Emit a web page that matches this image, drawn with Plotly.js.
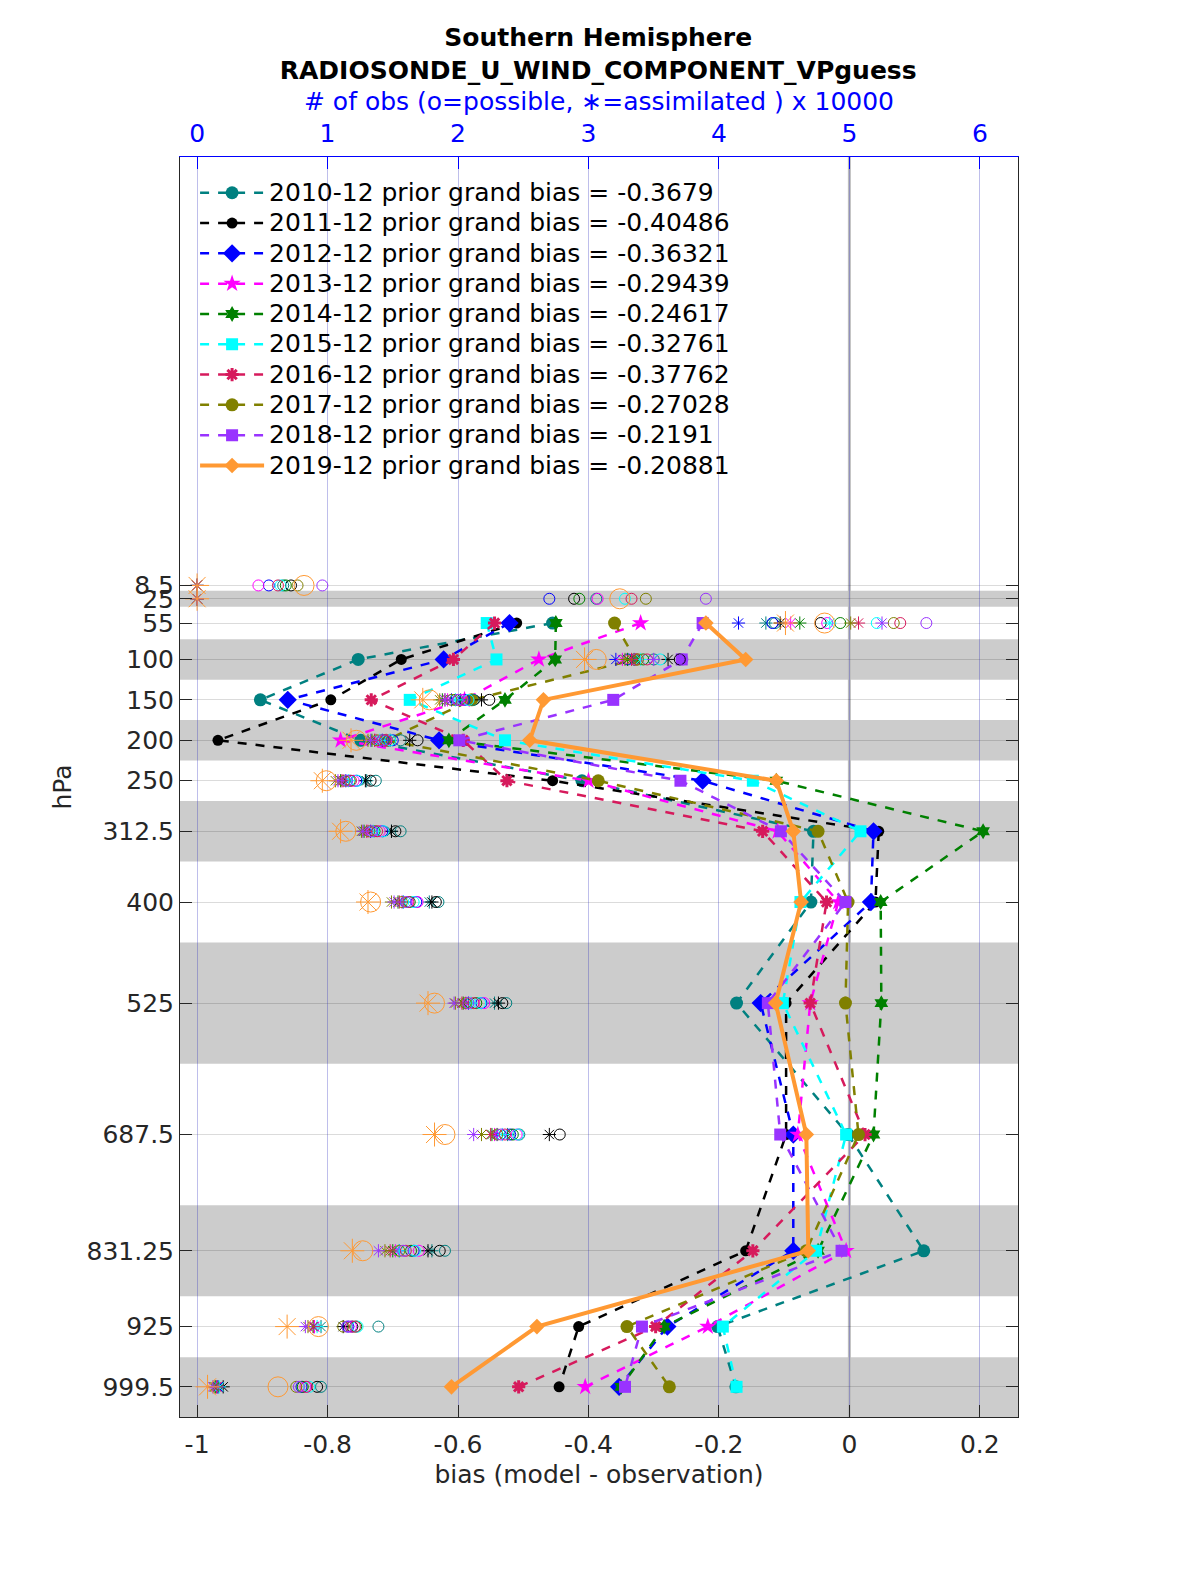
<!DOCTYPE html>
<html>
<head>
<meta charset="utf-8">
<script src="https://cdn.plot.ly/plotly-3.0.1.min.js"></script>
<style>
html,body{margin:0;padding:0;background:#fff;width:1200px;height:1575px;overflow:hidden;}
#chart{position:absolute;left:0;top:0;width:1200px;height:1575px;}
</style>
</head>
<body>
<div id="chart"></div>
<script>
// ---------- data ----------
const levels = [8.5, 25, 55, 100, 150, 200, 250, 312.5, 400, 525, 687.5, 831.25, 925, 999.5];
const levelLabels = ["8.5", "25", "55", "100", "150", "200", "250", "312.5", "400", "525", "687.5", "831.25", "925", "999.5"];
const seriesNames = [
  "2010-12 prior grand bias = -0.3679",
  "2011-12 prior grand bias = -0.40486",
  "2012-12 prior grand bias = -0.36321",
  "2013-12 prior grand bias = -0.29439",
  "2014-12 prior grand bias = -0.24617",
  "2015-12 prior grand bias = -0.32761",
  "2016-12 prior grand bias = -0.37762",
  "2017-12 prior grand bias = -0.27028",
  "2018-12 prior grand bias = -0.2191",
  "2019-12 prior grand bias = -0.20881"
];
// bias (model - observation) per level
const bias2010 = [null, null, -0.455, -0.753, -0.903, -0.749, -0.41, -0.055, -0.059, -0.173, -0.002, 0.114, -0.202, -0.174];
const bias2011 = [null, null, -0.510, -0.687, -0.795, -0.968, -0.455, 0.045, 0.040, -0.097, -0.097, -0.159, -0.415, -0.445];
const bias2012 = [null, null, -0.521, -0.622, -0.861, -0.629, -0.225, 0.037, 0.033, -0.136, -0.086, -0.086, -0.279, -0.353];
const bias2013 = [null, null, -0.320, -0.476, -0.590, -0.780, -0.40, -0.11, -0.017, -0.06, -0.079, -0.005, -0.217, -0.405];
const bias2014 = [null, null, -0.450, -0.451, -0.528, -0.614, -0.112, 0.205, 0.048, 0.049, 0.037, -0.048, -0.284, -0.350];
const bias2015 = [null, null, -0.556, -0.541, -0.674, -0.528, -0.148, 0.017, -0.075, -0.102, -0.005, -0.051, -0.194, -0.173];
const bias2016 = [null, null, -0.544, -0.607, -0.733, -0.592, -0.525, -0.133, -0.035, -0.06, 0.024, -0.148, -0.297, -0.507];
const bias2017 = [null, null, -0.360, -0.328, -0.579, -0.71, -0.385, -0.048, -0.002, -0.006, 0.014, -0.066, -0.341, -0.276];
const bias2018 = [null, null, -0.225, -0.257, -0.362, -0.598, -0.259, -0.105, -0.006, -0.125, -0.106, -0.012, -0.318, -0.344];
const bias2019 = [null, null, -0.220, -0.159, -0.469, -0.490, -0.112, -0.086, -0.074, -0.113, -0.066, -0.063, -0.479, -0.610];
// # of obs x 10000 : possible (o) and assimilated (*)
const poss2010 = [0.66, 3.06, 4.43, 3.50, 2.12, 1.56, 1.37, 1.56, 1.85, 2.37, 2.47, 1.90, 1.39, 0.95];
const assim2010 = [0, 0, 4.36, 3.35, 2.02, 1.48, 1.30, 1.49, 1.78, 2.28, 2.38, 1.80, 0.95, 0.16];
const poss2011 = [0.72, 2.89, 4.78, 3.70, 2.24, 1.69, 1.33, 1.52, 1.83, 2.34, 2.78, 1.86, 1.19, 0.92];
const assim2011 = [0, 0, 4.47, 3.61, 2.18, 1.63, 1.29, 1.49, 1.80, 2.31, 2.70, 1.77, 1.12, 0.20];
const poss2012 = [0.55, 2.70, 4.41, 3.30, 2.05, 1.50, 1.22, 1.42, 1.68, 2.18, 2.40, 1.66, 1.16, 0.80];
const assim2012 = [0, 0, 4.15, 3.21, 1.95, 1.42, 1.14, 1.33, 1.58, 2.08, 2.30, 1.55, 0.90, 0.16];
const poss2013 = [0.47, 3.07, 4.83, 3.36, 2.03, 1.45, 1.20, 1.40, 1.69, 2.20, 2.45, 1.70, 1.18, 0.83];
const assim2013 = [0, 0, 4.55, 3.26, 1.92, 1.37, 1.12, 1.31, 1.57, 2.06, 2.28, 1.52, 0.90, 0.15];
const poss2014 = [0.68, 2.93, 4.93, 3.42, 1.98, 1.42, 1.17, 1.36, 1.63, 2.14, 2.42, 1.64, 1.22, 0.81];
const assim2014 = [0, 0, 4.62, 3.30, 1.88, 1.34, 1.10, 1.28, 1.54, 2.04, 2.26, 1.50, 0.89, 0.14];
const poss2015 = [0.64, 3.28, 5.21, 3.55, 2.08, 1.48, 1.23, 1.43, 1.66, 2.17, 2.46, 1.67, 1.23, 0.86];
const assim2015 = [0, 0, 4.85, 3.40, 1.98, 1.40, 1.16, 1.35, 1.58, 2.10, 2.34, 1.55, 0.92, 0.17];
const poss2016 = [0.62, 3.33, 5.39, 3.45, 2.00, 1.44, 1.18, 1.38, 1.62, 2.12, 2.36, 1.60, 1.21, 0.84];
const assim2016 = [0, 0, 5.07, 3.33, 1.90, 1.36, 1.11, 1.30, 1.55, 2.03, 2.25, 1.48, 0.89, 0.15];
const poss2017 = [0.77, 3.44, 5.34, 3.38, 1.95, 1.38, 1.13, 1.32, 1.57, 2.06, 2.30, 1.55, 1.12, 0.76];
const assim2017 = [0, 0, 5.01, 3.28, 1.86, 1.31, 1.06, 1.26, 1.49, 1.98, 2.18, 1.44, 0.85, 0.13];
const poss2018 = [0.96, 3.90, 5.59, 3.72, 2.00, 1.42, 1.15, 1.34, 1.60, 2.08, 2.33, 1.58, 1.15, 0.78];
const assim2018 = [0, 0, 5.25, 3.50, 1.90, 1.33, 1.08, 1.27, 1.51, 1.97, 2.12, 1.39, 0.83, 0.12];
const poss2019 = [0.82, 3.24, 4.81, 3.06, 1.78, 1.22, 0.99, 1.14, 1.33, 1.82, 1.90, 1.27, 0.93, 0.62];
const assim2019 = [0, 0, 4.51, 2.97, 1.73, 1.18, 0.96, 1.10, 1.31, 1.77, 1.82, 1.19, 0.69, 0.08];
// layer edges (hPa) of the shaded bins
const bandTop = [15, 75, 175, 275, 450, 775, 963];
const bandBottom = [35, 125, 225, 350, 600, 887.5, 1040];
const biasTicks = [-1, -0.8, -0.6, -0.4, -0.2, 0, 0.2];
const biasTickText = ["-1", "-0.8", "-0.6", "-0.4", "-0.2", "0", "0.2"];
const obsTicks = [0, 1, 2, 3, 4, 5, 6];

// ---------- styles ----------
const biasData = [bias2010, bias2011, bias2012, bias2013, bias2014, bias2015, bias2016, bias2017, bias2018, bias2019];
const possData = [poss2010, poss2011, poss2012, poss2013, poss2014, poss2015, poss2016, poss2017, poss2018, poss2019];
const assimData = [assim2010, assim2011, assim2012, assim2013, assim2014, assim2015, assim2016, assim2017, assim2018, assim2019];
const colors = ["#008080", "#000000", "#0000ff", "#ff00ff", "#008000", "#00ffff", "#d61a5c", "#808000", "#9933ff", "#ff9933"];
const symbols = ["circle", "circle", "diamond", "star", "hexagram", "square", "asterisk-open", "circle", "square", "diamond"];
const sizes = [13, 11, 14, 13, 12, 12, 11, 13, 12, 12];

const traces = [];
// observation counts (top axis)
for (let i = 0; i < 10; i++) {
  const big = (i === 9);
  traces.push({
    x: possData[i], y: levels, xaxis: "x2", yaxis: "y", type: "scatter", mode: "markers",
    showlegend: false, hoverinfo: "skip",
    marker: {symbol: "circle-open", size: big ? 20 : 11, color: colors[i], line: {color: colors[i], width: 1}}
  });
  traces.push({
    x: assimData[i], y: levels, xaxis: "x2", yaxis: "y", type: "scatter", mode: "markers",
    showlegend: false, hoverinfo: "skip",
    marker: {symbol: "asterisk-open", size: big ? 20 : 11, color: colors[i], line: {color: colors[i], width: 1}}
  });
}
// bias profiles
for (let i = 0; i < 10; i++) {
  const last = (i === 9);
  traces.push({
    x: biasData[i], y: levels, xaxis: "x", yaxis: "y", type: "scatter", mode: "lines+markers",
    name: '<span style="font-size:25px">' + seriesNames[i] + '</span>', connectgaps: false,
    line: {color: colors[i], width: last ? 4 : 2.5, dash: last ? "solid" : "9px,9px"},
    marker: {symbol: symbols[i], size: sizes[i], color: colors[i],
             line: {color: colors[i], width: symbols[i] === "asterisk-open" ? 3 : 0}}
  });
}

const shapes = [];
for (let k = 0; k < bandTop.length; k++) {
  shapes.push({type: "rect", xref: "paper", yref: "y", x0: 0, x1: 1, y0: bandTop[k], y1: bandBottom[k],
               fillcolor: "#cccccc", line: {width: 0}, layer: "below"});
}
shapes.push({type: "line", xref: "x", yref: "paper", x0: 0, x1: 0, y0: 0, y1: 1,
             line: {color: "#bdbdbd", width: 3}, layer: "below"});

const F = "DejaVu Sans";
const layout = {
  width: 1200, height: 1575,
  paper_bgcolor: "#ffffff", plot_bgcolor: "#ffffff",
  font: {family: F, size: 25, color: "#262626"},
  margin: {l: 180, r: 182, t: 157, b: 158, pad: 0},
  title: {
    text: "Southern Hemisphere<br>RADIOSONDE_U_WIND_COMPONENT_VPguess",
    font: {family: F, size: 25, color: "#000000", weight: "bold"},
    x: 0.4985, xanchor: "center", xref: "container", yref: "container", y: 1 - 46 / 1575, yanchor: "top"
  },
  showlegend: true,
  legend: {
    x: 0.018, y: 0.9876, xanchor: "left", yanchor: "top", bgcolor: "rgba(0,0,0,0)", borderwidth: 0,
    font: {family: F, size: 21, color: "#000000"}, itemwidth: 64, tracegroupgap: 0, itemclick: false
  },
  xaxis: {
    range: [-1.0262, 0.2585], tickvals: biasTicks, ticktext: biasTickText,
    ticks: "inside", ticklen: 12, tickcolor: "#262626", tickwidth: 1,
    showline: true, linecolor: "#262626", linewidth: 1, mirror: false,
    showgrid: false, zeroline: false, tickfont: {size: 25, color: "#262626"}, ticklabelstandoff: 5,
    title: {text: "bias (model - observation)", font: {size: 25, color: "#262626"}, standoff: 7},
    automargin: false
  },
  xaxis2: {
    overlaying: "x", side: "top", anchor: "y",
    range: [(-1.0262 + 1) * 5, (0.2585 + 1) * 5], tickvals: obsTicks,
    ticks: "inside", ticklen: 12, tickcolor: "#0000ff", tickwidth: 1,
    showline: true, linecolor: "#0000ff", linewidth: 1,
    showgrid: true, gridcolor: "rgba(40,40,190,0.3)", gridwidth: 1, zeroline: false,
    tickfont: {size: 25, color: "#0000ff"}, ticklabelstandoff: 4,
    title: {text: "# of obs (o=possible, \u2217=assimilated ) x 10000", font: {size: 25, color: "#0000ff"}, standoff: 1},
    automargin: false
  },
  yaxis: {
    range: [1036.8, -521.3], tickvals: levels, ticktext: levelLabels,
    ticks: "inside", ticklen: 12, tickcolor: "#262626", tickwidth: 1,
    showline: true, linecolor: "#262626", linewidth: 1, mirror: "ticks",
    showgrid: true, gridcolor: "rgba(0,0,0,0.14)", gridwidth: 1, zeroline: false,
    tickfont: {size: 25, color: "#262626"},
    title: {text: "hPa", font: {size: 25, color: "#262626"}, standoff: 7},
    automargin: false
  },
  shapes: shapes
};

Plotly.newPlot("chart", traces, layout, {staticPlot: true, displayModeBar: false});
</script>
</body>
</html>
